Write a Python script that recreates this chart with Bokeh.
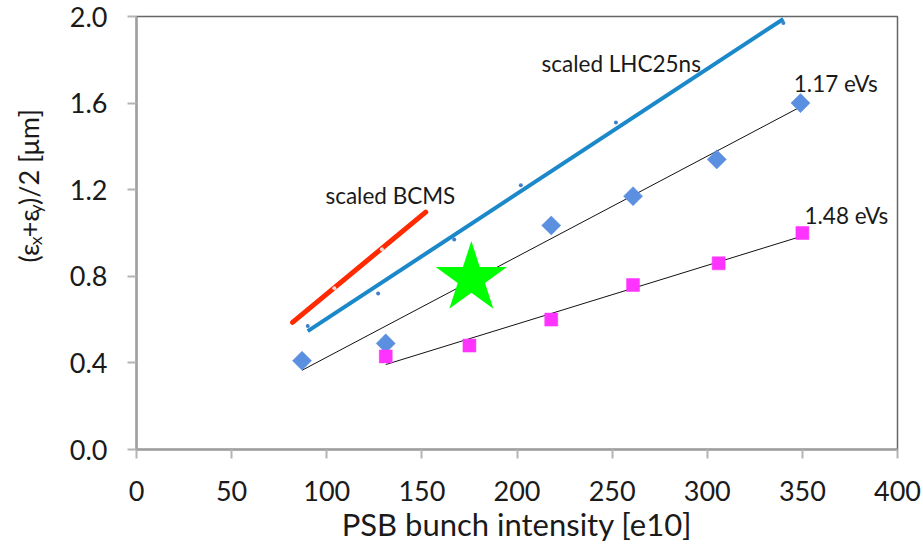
import numpy as np
from bokeh.plotting import figure
from bokeh.layouts import row
from bokeh.models import Label, FixedTicker, Range1d
from bokeh.core.properties import value
from bokeh.embed import file_html
from bokeh.resources import INLINE

# Measured transverse emittance vs. PSB bunch intensity
intensity_117 = [87, 131, 218, 261, 305, 349]
emit_117 = [0.41, 0.49, 1.035, 1.17, 1.34, 1.60]

intensity_148 = [131, 175, 218, 261, 306, 350]
emit_148 = [0.43, 0.48, 0.60, 0.76, 0.86, 1.00]

# Scaled reference beams
lhc25_intensity = [90, 127, 167, 202, 252, 340]
lhc25_emit = [0.57, 0.72, 0.97, 1.22, 1.51, 1.97]

bcms_intensity = [82, 104, 129, 152]
bcms_emit = [0.59, 0.745, 0.925, 1.10]

# Target working point
target_intensity = [176]
target_emit = [0.79]

x_ticks = [0, 50, 100, 150, 200, 250, 300, 350, 400]
y_ticks = [0.0, 0.4, 0.8, 1.2, 1.6, 2.0]
y_tick_labels = ["0.0", "0.4", "0.8", "1.2", "1.6", "2.0"]

FONT = "Lato"
TEXT = "#1a1a1a"
TITLE_W = 56
H = 549


def trend(xs, ys):
    slope, icpt = np.polyfit(xs, ys, 1)
    ends = [min(xs), max(xs)]
    return ends, [slope * v + icpt for v in ends]


p = figure(width=923 - TITLE_W, height=H, output_backend="svg", toolbar_location=None,
           x_range=Range1d(0, 400), y_range=Range1d(0, 2.0),
           min_border_left=136 - TITLE_W, min_border_right=26, min_border_top=16,
           min_border_bottom=100)
p.background_fill_color = "white"
p.border_fill_color = "white"
p.outline_line_color = "#666666"
p.outline_line_width = 1.5
p.xgrid.visible = False
p.ygrid.visible = False

for ax in (p.xaxis[0], p.yaxis[0]):
    ax.axis_line_color = "#a0a0a0"
    ax.axis_line_width = 2.5
    ax.major_tick_line_color = "#b4b4b4"
    ax.major_tick_line_width = 2
    ax.major_tick_out = 9
    ax.major_tick_in = 0
    ax.minor_tick_line_color = None
    ax.major_label_text_font = FONT
    ax.major_label_text_font_size = "27px"
    ax.major_label_text_color = TEXT

p.xaxis.ticker = FixedTicker(ticks=x_ticks)
p.xaxis.major_label_standoff = 22
p.xaxis.axis_label = "PSB bunch intensity [e10]"
p.xaxis.axis_label_text_font = FONT
p.xaxis.axis_label_text_font_size = "31px"
p.xaxis.axis_label_text_font_style = "normal"
p.xaxis.axis_label_text_color = TEXT
p.xaxis.axis_label_standoff = 1

p.yaxis.ticker = FixedTicker(ticks=y_ticks)
p.yaxis.major_label_overrides = {t: s for t, s in zip(y_ticks, y_tick_labels)}
p.yaxis.major_label_standoff = 20

# Trend lines and reference beams
lx, ly = trend(lhc25_intensity, lhc25_emit)
p.line(lx, ly, line_color="#1b88c9", line_width=4)
p.scatter(lhc25_intensity, lhc25_emit, marker="circle", size=4,
          fill_color="#3f7fd0", line_color=None)

bx, by = trend(bcms_intensity, bcms_emit)
p.line(bx, by, line_color="#ff2a00", line_width=5, line_cap="round")
p.scatter(bcms_intensity[1:-1], bcms_emit[1:-1], marker="circle", size=4,
          fill_color="#e8d8d8", line_color=None)

ax1, ay1 = trend(intensity_117, emit_117)
p.line(ax1, ay1, line_color="#111111", line_width=1)
ax2, ay2 = trend(intensity_148, emit_148)
p.line(ax2, ay2, line_color="#111111", line_width=1)

p.scatter(intensity_117, emit_117, marker="square", angle=np.pi / 4, size=13.5,
          fill_color="#5b8fe0", line_color="#5b8fe0", line_width=0.5)
p.scatter(intensity_148, emit_148, marker="square", size=13,
          fill_color="#ff33ff", line_color="#ff33ff", line_width=0.5)

p.scatter(target_intensity, target_emit, marker="star", size=75,
          fill_color="#00ff00", line_color=None)

# In-plot annotations
for txt, x, y in [("scaled LHC25ns", 212.9, 1.783), ("1.17 eVs", 345.5, 1.689),
                  ("1.48 eVs", 351.1, 1.081), ("scaled BCMS", 99.3, 1.173)]:
    p.add_layout(Label(x=x, y=y, text=txt, text_font=FONT, text_font_size="22.5px",
                       text_color=TEXT, text_baseline="alphabetic", text_align="left"))

# Narrow side panel holding the rotated y-axis title with subscripts
t = figure(width=TITLE_W, height=H, output_backend="svg", toolbar_location=None,
           x_range=Range1d(0, TITLE_W), y_range=Range1d(0, H),
           x_axis_location=None, y_axis_location=None, min_border=0)
t.outline_line_color = None
t.xgrid.visible = False
t.ygrid.visible = False
t.background_fill_color = "white"
t.border_fill_color = "white"

base_x, base_y = 28, H - 312
pieces = [("(ε", 0, 27, 0), ("x", 22, 18, 6), ("+ε", 32, 27, 0), ("y", 62, 18, 6),
          (")/2 [μm]", 73, 27, 0)]
for txt, off, size, dx in pieces:
    t.text(x=[base_x + dx], y=[base_y + off], text=[txt], angle=np.pi / 2,
           text_font=value(FONT), text_font_size=f"{size}px", text_color=TEXT,
           text_baseline="alphabetic", text_align="left")

open("out.html", "w").write(file_html(row(t, p, spacing=0), INLINE))
